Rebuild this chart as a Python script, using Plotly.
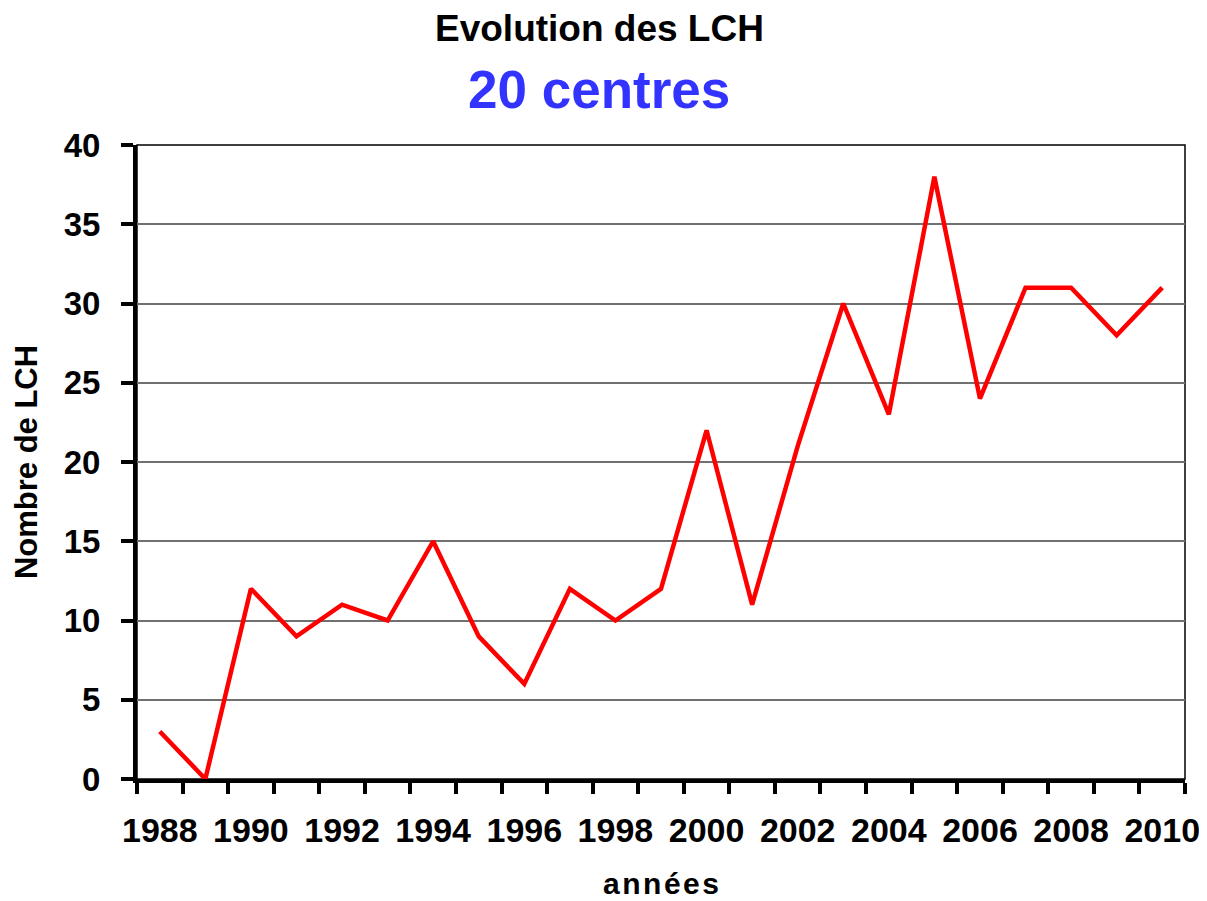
import plotly.graph_objects as go

years = list(range(1988, 2011))
values = [3, 0, 12, 9, 11, 10, 15, 9, 6, 12, 10, 12, 22, 11, 21, 30, 23, 38, 24, 31, 31, 28, 31]
label_years = list(range(1988, 2011, 2))
y_ticks = [0, 5, 10, 15, 20, 25, 30, 35, 40]

FONT = "Liberation Sans"

fig = go.Figure()
fig.add_trace(go.Scatter(x=years, y=values, mode="lines",
                         line=dict(color="#ff0000", width=4.5),
                         showlegend=False, hoverinfo="x+y"))

fig.update_layout(
    width=1207, height=901,
    margin=dict(l=129, r=30, t=137, b=130),
    paper_bgcolor="white", plot_bgcolor="white",
    font=dict(family=FONT, color="black"),
    shapes=[dict(type="rect", xref="paper", yref="paper", x0=0, x1=1, y0=0, y1=1,
                 line=dict(color="black", width=1.5), layer="below")],
    annotations=[
        dict(text="<b>Evolution des LCH</b>", xref="paper", yref="paper",
             x=0.441, y=1.1845, xanchor="center", yanchor="middle", showarrow=False,
             font=dict(family=FONT, size=37, color="black")),
        dict(text="<b>20 centres</b>", xref="paper", yref="paper",
             x=0.441, y=1.0868, xanchor="center", yanchor="middle", showarrow=False,
             font=dict(family=FONT, size=53, color="#3333ff")),
    ],
)

fig.update_xaxes(
    range=[1987.5, 2010.5],
    tickvals=label_years, ticktext=[f"<b>{y}</b>" for y in label_years],
    ticks="", showgrid=False, zeroline=False,
    showline=True, linecolor="black", linewidth=4,
    tickfont=dict(family=FONT, size=34, color="black"),
    ticklabelstandoff=18,
    minor=dict(tickvals=[y + 0.5 for y in range(1987, 2011)], ticks="outside",
               ticklen=11, tickwidth=4, tickcolor="black", showgrid=False),
    title=dict(text="<b>a\u200an\u200an\u200aé\u200ae\u200as</b>",
               font=dict(family=FONT, size=30, color="black"), standoff=26),
)

fig.update_yaxes(
    range=[0, 40], tickvals=y_ticks, ticktext=[f"<b>{v}</b>" for v in y_ticks],
    ticks="outside", ticklen=12, tickwidth=4, tickcolor="black",
    showgrid=True, gridcolor="#707070", gridwidth=1.5, zeroline=False,
    showline=True, linecolor="black", linewidth=4,
    tickfont=dict(family=FONT, size=33, color="black"),
    ticklabelstandoff=14,
    title=dict(text="<b>Nombre de LCH</b>", font=dict(family=FONT, size=31, color="black"),
               standoff=18),
)

fig.write_html("out.html")
